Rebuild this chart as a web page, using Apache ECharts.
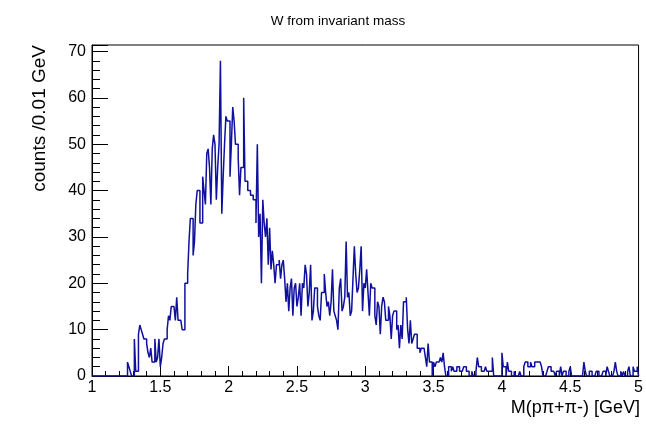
<!DOCTYPE html>
<html>
<head>
<meta charset="utf-8">
<script src="https://cdn.jsdelivr.net/npm/echarts@6/dist/echarts.min.js"></script>
<style>
html,body{margin:0;padding:0;background:#fff;}
#c{width:646px;height:424px;}
</style>
</head>
<body>
<div id="c"></div>
<script>
// Histogram definition: 400 bins of 0.01 GeV from 1 to 5 GeV
const binLow = 1.0;
const binWidth = 0.01;
const counts = [
  0,0,0,0,0,0,0,0,0,0,
  0,0,0,0,0,0,0,0,0,0,
  0,0,0,0,0,0,3,2,1,0,
  0,8,1,1,9,11,10,9,8,8,
  7,5,4,6,3,3,8,3,4,8,
  2,4,7,8,8,10,13,12,15,15,
  15,12,17,12,12,12,10,10,20,20,
  22,29,34,34,26,29,37,40,40,33,
  33,43,40,37,48,49,45,37,49,52,
  50,38,45,50,68,35,43,50,56,55,
  55,43,50,58,55,50,50,47,39,45,
  45,60,42,42,40,40,39,39,38,38,
  33,50,30,35,20,38,33,30,34,24,
  32,23,27,24,20,24,24,25,21,24,
  25,21,16,20,14,19,21,13,19,20,
  15,17,20,13,20,19,24,22,15,18,
  24,12,14,19,19,15,13,12,18,18,
  22,18,15,16,13,16,23,14,13,12,
  10,19,21,14,15,17,29,17,18,13,
  14,21,28,22,18,19,23,28,14,20,
  19,23,18,13,20,19,19,13,11,16,
  15,9,15,17,16,12,12,15,13,8,
  13,14,14,10,11,6,11,8,16,16,
  17,10,7,12,7,8,9,9,6,6,
  5,6,6,6,4,2,7,3,3,0,
  3,2,3,3,3,4,3,5,2,0,
  0,2,2,1,2,1,1,2,2,1,
  1,1,2,2,1,1,0,0,1,0,
  0,1,4,2,2,1,1,1,2,1,
  1,1,1,4,0,0,0,0,0,0,
  5,2,2,0,3,1,1,0,0,1,
  0,0,0,1,0,0,2,3,3,2,
  2,3,2,2,3,3,3,3,3,2,
  0,0,0,1,2,2,1,1,1,0,
  1,1,0,2,0,1,1,0,0,1,
  2,0,0,0,0,0,0,0,0,0,
  3,1,0,0,1,1,0,0,0,1,
  1,0,0,0,1,1,0,2,1,0,
  0,0,1,3,1,0,0,1,0,1,
  0,0,1,2,0,0,2,1,1,2
];
const xTicks = [1, 1.5, 2, 2.5, 3, 3.5, 4, 4.5, 5];
const yTicks = [0, 10, 20, 30, 40, 50, 60, 70];
const titleText = 'W from invariant mass';
const xTitle = 'M(p\u03c0+\u03c0-) [GeV]';
const yTitle = 'counts /0.01 GeV';

const xMax = binLow + counts.length * binWidth;
const yMax = 71.4;

// step outline: one point per bin's low edge, plus closing edge
const stepData = counts.map((v, i) => [+(binLow + i * binWidth).toFixed(4), v]);
stepData.push([xMax, counts[counts.length - 1]]);
stepData.push([xMax, 0]);

const font = '"Liberation Sans", Arial, Helvetica, sans-serif';
const chart = echarts.init(document.getElementById('c'), null, {renderer: 'canvas'});
chart.setOption({
  animation: false,
  backgroundColor: '#fff',
  grid: {left: 92, right: 6, top: 45, bottom: 48, show: true, borderColor: '#000', borderWidth: 1, backgroundColor: 'transparent'},
  xAxis: {
    type: 'value', min: xTicks[0], max: xTicks[xTicks.length - 1], interval: 0.5,
    axisLine: {show: true, lineStyle: {color: '#000', width: 1}},
    axisTick: {show: true, inside: true, length: 10, lineStyle: {color: '#000'}},
    minorTick: {show: true, splitNumber: 5, length: 5, lineStyle: {color: '#000'}},
    splitLine: {show: false},
    axisLabel: {color: '#000', fontSize: 16, fontFamily: font, margin: 4,
      formatter: v => (xTicks.some(t => Math.abs(t - v) < 1e-6) ? String(v) : '')}
  },
  yAxis: [{
    type: 'value', min: 0, max: yMax, interval: 10,
    axisLine: {show: true, lineStyle: {color: '#000', width: 1}},
    axisTick: {show: true, inside: true, length: 16, lineStyle: {color: '#000'}},
    splitLine: {show: false},
    axisLabel: {color: '#000', fontSize: 16, fontFamily: font, margin: 6,
      formatter: v => (yTicks.indexOf(v) >= 0 ? String(v) : '')}
  }, {
    type: 'value', min: 0, max: yMax, interval: 2, position: 'left', offset: 0,
    axisLine: {show: false},
    axisTick: {show: true, inside: true, length: 8, lineStyle: {color: '#000'}},
    splitLine: {show: false},
    axisLabel: {show: false}
  }],
  series: [{
    type: 'line', step: 'end', data: stepData, yAxisIndex: 0,
    showSymbol: false, symbol: 'none',
    lineStyle: {color: '#10109e', width: 1.5},
    z: 3
  }],
  graphic: [
    {type: 'text', x: 338, y: 21, style: {text: titleText, font: '13.5px ' + font, fill: '#000', align: 'center', verticalAlign: 'middle'}},
    {type: 'text', x: 40, y: 45, rotation: Math.PI / 2, style: {text: yTitle, font: '19px ' + font, fill: '#000', align: 'right', verticalAlign: 'middle'}},
    {type: 'text', x: 640, y: 408, style: {text: xTitle, font: '18px ' + font, fill: '#000', align: 'right', verticalAlign: 'middle'}}
  ]
});
</script>
</body>
</html>
